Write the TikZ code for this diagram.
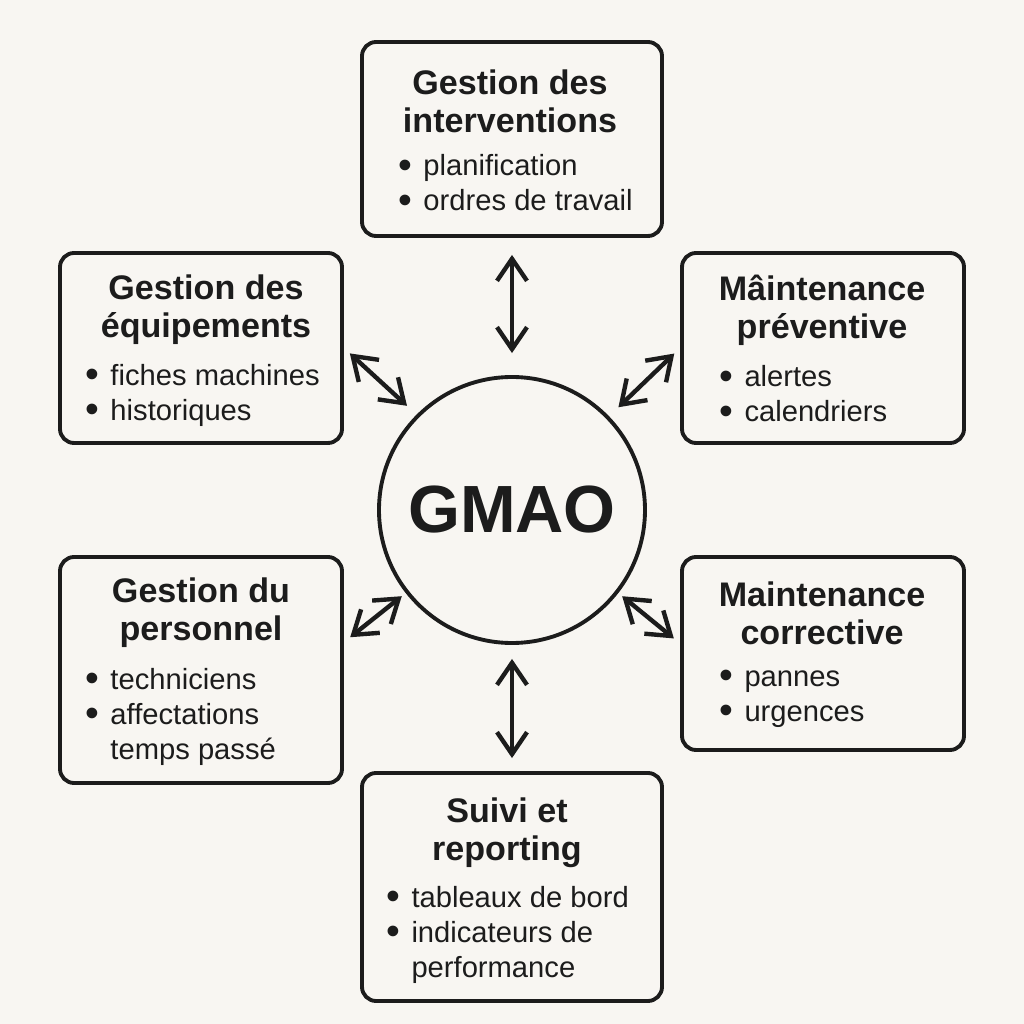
\documentclass[tikz,border=0pt]{standalone}
\usepackage{fontspec}
\setmainfont{Liberation Sans}
\usetikzlibrary{arrows.meta}
\definecolor{ink}{HTML}{1C1C1C}
\definecolor{paper}{HTML}{F8F6F2}
\newcommand{\puce}{\makebox[0.45em][c]{\raisebox{-0.15ex}{\scalebox{1.35}{\textbullet}}}\hspace{0.4em}}
\newcommand{\sanspuce}{\makebox[0.45em]{}\hspace{0.4em}}
\begin{document}
\begin{tikzpicture}[
        module/.style={draw=ink, line width=1.1pt, rounded corners=4pt, fill=paper, inner sep=0pt},
        heading/.style={text=ink, font=\bfseries\fontsize{9.7}{10.8}\selectfont, align=center, inner sep=0pt},
        items/.style={text=ink, font=\fontsize{8.3}{9.95}\selectfont, align=left, anchor=west, inner sep=0pt},
        link/.style={<->, >={Straight Barb[length=2.2mm,width=3mm]}, line width=1.25pt, draw=ink,
                     shorten <=0.15cm, shorten >=0.15cm}
    ]
        \useasboundingbox[fill=paper] (0,0) rectangle (10.24,10.24);

        % centre
        \node[circle, draw=ink, line width=1.1pt, fill=paper, minimum size=2.66cm, inner sep=0pt,
              text=ink, font=\bfseries\fontsize{19}{22}\selectfont] (gmao) at (5.12,5.14) {GMAO};

        % modules
        \node[module, minimum width=3.00cm, minimum height=1.94cm] (interv) at (5.12,8.85) {};
        \node[module, minimum width=2.82cm, minimum height=1.90cm] (equip) at (2.01,6.76) {};
        \node[module, minimum width=2.82cm, minimum height=1.90cm] (prev) at (8.23,6.76) {};
        \node[module, minimum width=2.82cm, minimum height=2.26cm] (perso) at (2.01,3.54) {};
        \node[module, minimum width=2.82cm, minimum height=1.93cm] (corr) at (8.23,3.705) {};
        \node[module, minimum width=3.00cm, minimum height=2.28cm] (suivi) at (5.12,1.37) {};

        % titles
        \node[heading] (interv-t) at (5.10,9.23) {Gestion des\\interventions};
        \node[heading] (equip-t) at (2.06,7.14) {Gestion des\\équipements};
        \node[heading] (prev-t) at (8.22,7.14) {Mâintenance\\préventive};
        \node[heading] (perso-t) at (2.01,4.11) {Gestion du\\personnel};
        \node[heading] (corr-t) at (8.22,4.11) {Maintenance\\corrective};
        \node[heading] (suivi-t) at (5.07,1.91) {Suivi et\\reporting};

        % lists
        \node[items] (interv-l) at (3.98,8.40) {\puce planification\\\puce ordres de travail};
        \node[items] (equip-l) at (0.85,6.29) {\puce fiches machines\\\puce historiques};
        \node[items] (prev-l) at (7.19,6.29) {\puce alertes\\\puce calendriers};
        \node[items] (perso-l) at (0.85,3.07) {\puce techniciens\\\puce affectations\\\sanspuce temps passé};
        \node[items] (corr-l) at (7.19,3.25) {\puce pannes\\\puce urgences};
        \node[items] (suivi-l) at (3.86,0.89) {\puce tableaux de bord\\\puce indicateurs de\\\sanspuce performance};

        % links
        \draw[link, shorten <=0.17cm, shorten >=0.22cm] (interv) -- (gmao);
        \draw[link, shorten <=0.13cm, shorten >=0.14cm] (suivi) -- (gmao);
        \draw[link, shorten <=0.08cm, shorten >=0.13cm] (equip.east) -- (gmao.135);
        \draw[link, shorten <=0.08cm, shorten >=0.13cm] (prev.west) -- (gmao.44);
        \draw[link, shorten <=0.08cm, shorten >=0.05cm] (perso.11) -- (gmao.218);
        \draw[link, shorten <=0.08cm, shorten >=0.05cm] (corr.176) -- (gmao.-38);
    \end{tikzpicture}
\end{document}
